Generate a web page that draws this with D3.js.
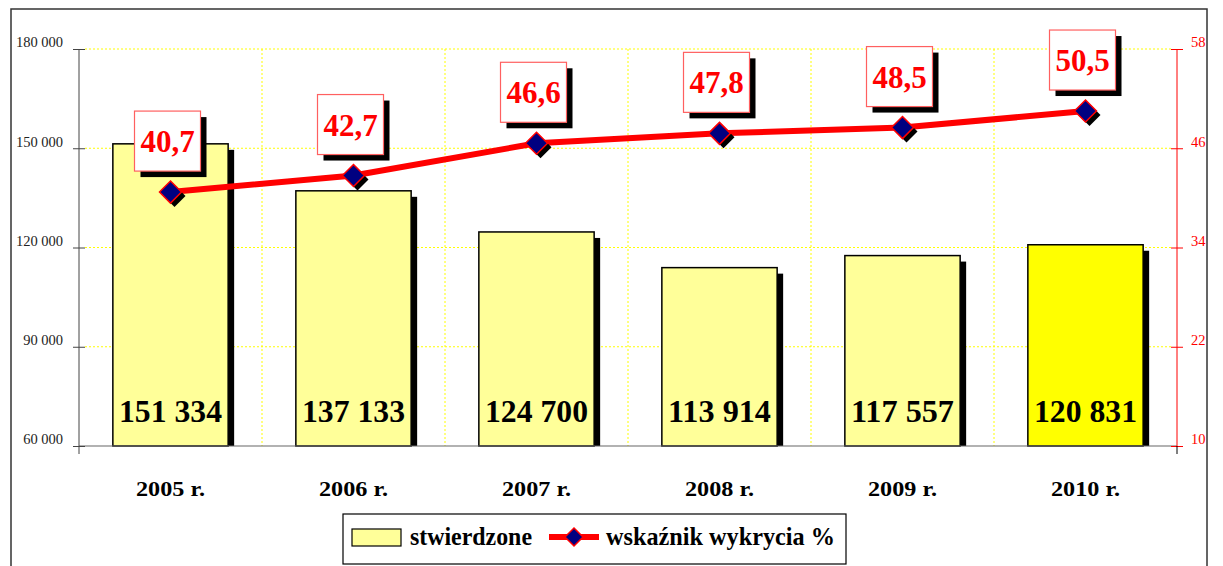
<!DOCTYPE html>
<html><head><meta charset="utf-8">
<script src="https://cdn.jsdelivr.net/npm/d3@7"></script>
<style>body{margin:0;background:#fff}svg{display:block}</style>
</head><body>
<svg id="c" width="1223" height="566"></svg>
<script>
const categories = ["2005 r.", "2006 r.", "2007 r.", "2008 r.", "2009 r.", "2010 r."];
const stwierdzone = [151334, 137133, 124700, 113914, 117557, 120831];
const wskaznik = [40.7, 42.7, 46.6, 47.8, 48.5, 50.5];
const leftTicks = [60000, 90000, 120000, 150000, 180000];
const rightTicks = [10, 22, 34, 46, 58];
const seriesNames = ["stwierdzone", "wskaźnik wykrycia %"];

const svg = d3.select("#c");
const font = "'Liberation Serif', 'Times New Roman', serif";
const L = 79, R = 1177, T = 49, B = 446;

// outer border
svg.append("rect").attr("x", 11).attr("y", 9).attr("width", 1196).attr("height", 570)
  .attr("fill", "none").attr("stroke", "#333").attr("stroke-width", 1.5);

const x = d3.scaleBand().domain(categories).range([L, R]).paddingInner(0.37).paddingOuter(0.185);
const xb = d3.scaleBand().domain(categories).range([L, R]);
const yL = d3.scaleLinear().domain([60000, 180000]).range([B, T]);
const yR = d3.scaleLinear().domain([10, 58]).range([B, T]);

// gridlines
const g = svg.append("g");
leftTicks.slice(1).forEach(t => {
  g.append("line").attr("x1", L + 6).attr("x2", R - 6).attr("y1", yL(t)).attr("y2", yL(t))
    .attr("stroke", "#ffff00").attr("stroke-width", 1).attr("stroke-dasharray", "2,2");
});
categories.slice(1).forEach(c => {
  g.append("line").attr("x1", xb(c)).attr("x2", xb(c)).attr("y1", T).attr("y2", B)
    .attr("stroke", "#ffff00").attr("stroke-width", 1).attr("stroke-dasharray", "2,2");
});

// bars with shadows
const sh = 6;
categories.forEach((c, i) => {
  const bx = x(c), bw = x.bandwidth(), by = yL(stwierdzone[i]);
  svg.append("rect").attr("x", bx + sh).attr("y", by + sh).attr("width", bw).attr("height", B - by - sh)
    .attr("fill", "#000");
  svg.append("rect").attr("x", bx).attr("y", by).attr("width", bw).attr("height", B - by)
    .attr("fill", i === 5 ? "#ffff00" : "#ffff99").attr("stroke", "#000").attr("stroke-width", 1.5);
  svg.append("text").attr("x", bx + bw / 2).attr("y", 422).attr("text-anchor", "middle")
    .attr("font-family", font).attr("font-weight", "bold").attr("font-size", 31).attr("fill", "#000")
    .attr("textLength", 103).attr("lengthAdjust", "spacingAndGlyphs")
    .text(d3.format(",")(stwierdzone[i]).replace(/,/g, " "));
});

// x axis line
svg.append("line").attr("x1", L).attr("x2", R).attr("y1", B).attr("y2", B)
  .attr("stroke", "#666").attr("stroke-width", 1.2);

// left axis
const ax = svg.append("g").attr("transform", `translate(${L},0)`)
  .call(d3.axisLeft(yL).tickValues(leftTicks).tickSize(6).tickPadding(8)
    .tickFormat(d => d3.format(",")(d).replace(/,/g, " ")));
ax.attr("font-family", font);
ax.select(".domain").remove();
ax.selectAll(".tick line").attr("x1", -6).attr("x2", 6).attr("stroke", "#444");
ax.selectAll("text").style("font-family", font).attr("font-size", 14.5).attr("fill", "#222").attr("dx", -2).attr("dy", "-0.15em");
svg.append("line").attr("x1", L).attr("x2", L).attr("y1", T).attr("y2", B + 8).attr("stroke", "#444").attr("stroke-width", 1);

// right axis
const ar = svg.append("g").attr("transform", `translate(${R},0)`)
  .call(d3.axisRight(yR).tickValues(rightTicks).tickSize(6).tickPadding(8));
ar.attr("font-family", font);
ar.select(".domain").remove();
ar.selectAll(".tick line").attr("x1", -6).attr("x2", 6).attr("stroke", "#ff0000");
ar.selectAll("text").style("font-family", font).attr("font-size", 14.5).attr("fill", "#ff0000").attr("dy", "-0.15em");
svg.append("line").attr("x1", R).attr("x2", R).attr("y1", T).attr("y2", B).attr("stroke", "#ff0000").attr("stroke-width", 1);
svg.append("line").attr("x1", R).attr("x2", R).attr("y1", B).attr("y2", B + 8).attr("stroke", "#000").attr("stroke-width", 1);

// category labels
categories.forEach(c => {
  svg.append("text").attr("x", xb(c) + xb.bandwidth() / 2).attr("y", 496).attr("text-anchor", "middle")
    .attr("font-family", font).attr("font-weight", "bold").attr("font-size", 22).attr("fill", "#000")
    .attr("textLength", 69).attr("lengthAdjust", "spacingAndGlyphs").text(c);
});

// line
const px = c => xb(c) + xb.bandwidth() / 2;
const line = d3.line().x((d, i) => px(categories[i])).y(d => yR(d));
svg.append("path").datum(wskaznik).attr("d", line).attr("fill", "none")
  .attr("stroke", "#ff0000").attr("stroke-width", 6).attr("stroke-linejoin", "round");

const dia = (cx, cy, r) => `M${cx},${cy - r}L${cx + r},${cy}L${cx},${cy + r}L${cx - r},${cy}Z`;
wskaznik.forEach((v, i) => {
  const cx = px(categories[i]), cy = yR(v);
  svg.append("path").attr("d", dia(cx + 4, cy + 4, 11)).attr("fill", "#000");
  svg.append("path").attr("d", dia(cx, cy, 11)).attr("fill", "#000080").attr("stroke", "#ff0000").attr("stroke-width", 1.5);
  // label box
  const bw = 66, bh = 60, bx = cx - 3 - bw / 2, by = cy - 21 - bh;
  svg.append("rect").attr("x", bx + 6).attr("y", by + 6).attr("width", bw).attr("height", bh).attr("fill", "#000");
  svg.append("rect").attr("x", bx).attr("y", by).attr("width", bw).attr("height", bh)
    .attr("fill", "#fff").attr("stroke", "#ff6060").attr("stroke-width", 1.2);
  svg.append("text").attr("x", bx + bw / 2).attr("y", by + bh / 2 + 11).attr("text-anchor", "middle")
    .attr("font-family", font).attr("font-weight", "bold").attr("font-size", 31).attr("fill", "#ff0000")
    .text(String(v).replace(".", ","));
});

// legend
const lg = svg.append("g");
lg.append("rect").attr("x", 343).attr("y", 514).attr("width", 503).attr("height", 50)
  .attr("fill", "#fff").attr("stroke", "#000").attr("stroke-width", 1.2);
lg.append("rect").attr("x", 352).attr("y", 529).attr("width", 49).attr("height", 17)
  .attr("fill", "#ffff99").attr("stroke", "#000").attr("stroke-width", 1.2);
lg.append("text").attr("x", 410).attr("y", 545).attr("font-family", font).attr("font-weight", "bold")
  .attr("font-size", 25).attr("fill", "#000")
  .attr("textLength", 122).attr("lengthAdjust", "spacingAndGlyphs").text(seriesNames[0]);
lg.append("line").attr("x1", 549).attr("x2", 599).attr("y1", 537).attr("y2", 537)
  .attr("stroke", "#ff0000").attr("stroke-width", 6);
lg.append("path").attr("d", dia(574, 537, 9)).attr("fill", "#000080").attr("stroke", "#ff0000").attr("stroke-width", 1.5);
lg.append("text").attr("x", 606).attr("y", 545).attr("font-family", font).attr("font-weight", "bold")
  .attr("font-size", 25).attr("fill", "#000")
  .attr("textLength", 229).attr("lengthAdjust", "spacingAndGlyphs").text(seriesNames[1]);
</script>
</body></html>
